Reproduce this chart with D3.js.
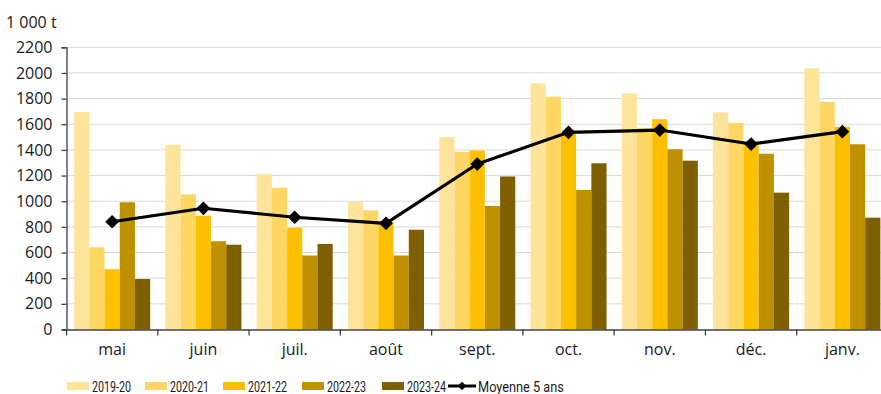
<!DOCTYPE html>
<html>
<head>
<meta charset="utf-8">
<script src="https://cdn.jsdelivr.net/npm/d3@7"></script>
<style>
  html, body { margin: 0; padding: 0; background: #fff; }
  svg { display: block; }
  .axis text { font-family: "Open Sans", sans-serif; fill: #1a1a1a; }
  .legend text { font-family: "Roboto", "Open Sans", sans-serif; fill: #1a1a1a; }
</style>
</head>
<body>
<svg id="chart" width="881" height="394"></svg>
<script>
// Monthly volumes (1 000 t), campaigns 2019-20 to 2023-24, plus the 5-year average
const months = ["mai", "juin", "juil.", "août", "sept.", "oct.", "nov.", "déc.", "janv."];
const seriesNames = ["2019-20", "2020-21", "2021-22", "2022-23", "2023-24"];
const s2019_20 = [1695, 1440, 1212, 995, 1500, 1920, 1840, 1693, 2036];
const s2020_21 = [641, 1054, 1105, 929, 1385, 1815, 1570, 1610, 1774];
const s2021_22 = [470, 887, 794, 840, 1395, 1530, 1640, 1465, 1581];
const s2022_23 = [992, 688, 577, 577, 963, 1088, 1405, 1370, 1444];
const s2023_24 = [394, 661, 667, 778, 1193, 1296, 1316, 1067, 872];
const average5 = [840, 945, 875, 828, 1290, 1537, 1555, 1446, 1542];
const yTicks = [0, 200, 400, 600, 800, 1000, 1200, 1400, 1600, 1800, 2000, 2200];
const seriesColors = ["#fee49b", "#fdd663", "#fdc000", "#bf9000", "#7f6000"];
const avgLabel = "Moyenne 5 ans";
const unitLabel = "1 000 t";

const series = [s2019_20, s2020_21, s2021_22, s2022_23, s2023_24];

const svg = d3.select("#chart");
const plotLeft = 66.5, plotRight = 888, plotTop = 47.3, plotBottom = 329.5;

const x0 = d3.scaleBand().domain(months).range([plotLeft, plotRight]).padding(0);
const x1 = d3.scaleBand().domain(seriesNames).range([0, x0.bandwidth()])
  .paddingInner(0).paddingOuter(0.5);
const y = d3.scaleLinear().domain([0, 2200]).range([plotBottom, plotTop]);
const color = d3.scaleOrdinal().domain(seriesNames).range(seriesColors);

// Horizontal gridlines
svg.append("g")
  .selectAll("line")
  .data(yTicks.filter(d => d > 0))
  .join("line")
  .attr("x1", plotLeft).attr("x2", 881)
  .attr("y1", d => y(d)).attr("y2", d => y(d))
  .attr("stroke", "#d9d9d9").attr("stroke-width", 1);

// Grouped bars
const groups = svg.append("g")
  .selectAll("g")
  .data(months)
  .join("g")
  .attr("transform", d => `translate(${x0(d)},0)`);

groups.selectAll("rect")
  .data((m, i) => seriesNames.map((s, k) => ({ s, v: series[k][i] })))
  .join("rect")
  .attr("x", d => x1(d.s))
  .attr("width", x1.bandwidth())
  .attr("y", d => y(d.v))
  .attr("height", d => y(0) - y(d.v))
  .attr("fill", d => color(d.s));

// Y axis
const yAxis = svg.append("g")
  .attr("class", "axis")
  .attr("transform", `translate(${plotLeft},0)`)
  .call(d3.axisLeft(y).tickValues(yTicks).tickSize(5).tickPadding(9).tickFormat(d3.format("d")));
yAxis.select(".domain").attr("stroke", "#404040").attr("stroke-width", 1.3);
yAxis.selectAll(".tick line").attr("stroke", "#404040").attr("stroke-width", 1.3);
yAxis.selectAll("text").attr("font-size", 16);

// X axis: ticks on group boundaries
const xAxis = svg.append("g")
  .attr("class", "axis")
  .attr("transform", `translate(0,${plotBottom})`)
  .call(d3.axisBottom(x0).tickSize(0).tickPadding(14));
xAxis.select(".domain").attr("stroke", "#404040").attr("stroke-width", 1.3);
xAxis.selectAll("text").attr("font-size", 16);
xAxis.selectAll(".boundary")
  .data(months.map(m => x0(m)).concat([x0(months[months.length - 1]) + x0.bandwidth()]))
  .join("line")
  .attr("class", "boundary")
  .attr("x1", d => d).attr("x2", d => d)
  .attr("y1", 0).attr("y2", 6)
  .attr("stroke", "#404040").attr("stroke-width", 1.3);

// Unit label
svg.append("text")
  .attr("x", 6).attr("y", 28)
  .attr("font-family", "Open Sans, sans-serif")
  .attr("font-size", 16)
  .attr("fill", "#1a1a1a")
  .text(unitLabel);

// 5-year average line with diamond markers
const cx = m => x0(m) + x0.bandwidth() / 2;
const line = d3.line().x((d, i) => cx(months[i])).y(d => y(d));
svg.append("path")
  .datum(average5)
  .attr("d", line)
  .attr("fill", "none")
  .attr("stroke", "#000")
  .attr("stroke-width", 3.2)
  .attr("stroke-linejoin", "round");
const diamond = d3.symbol().type(d3.symbolDiamond2).size(120);
svg.append("g")
  .selectAll("path")
  .data(average5)
  .join("path")
  .attr("transform", (d, i) => `translate(${cx(months[i])},${y(d)})`)
  .attr("d", diamond)
  .attr("fill", "#000");

// Legend (condensed labels: each text is squeezed horizontally to its slot width)
const legend = svg.append("g").attr("class", "legend");
const legendX = [67, 145, 223, 302, 382];
const legendY = 386;
function condensedLabel(x, text, width) {
  const g = legend.append("g");
  const t = g.append("text")
    .attr("x", 0).attr("y", 0)
    .attr("dy", "0.36em")
    .attr("font-size", 15.5)
    .text(text);
  const w = t.node().getComputedTextLength();
  g.attr("transform", `translate(${x},${legendY}) scale(${width / w},1)`);
}
seriesNames.forEach((s, k) => {
  legend.append("rect")
    .attr("x", legendX[k]).attr("y", legendY - 4)
    .attr("width", 22).attr("height", 8)
    .attr("fill", color(s));
  condensedLabel(legendX[k] + 25, s, 39);
});
legend.append("line")
  .attr("x1", 448).attr("x2", 476)
  .attr("y1", legendY).attr("y2", legendY)
  .attr("stroke", "#000").attr("stroke-width", 3);
legend.append("path")
  .attr("transform", `translate(462,${legendY})`)
  .attr("d", d3.symbol().type(d3.symbolDiamond2).size(45))
  .attr("fill", "#000");
condensedLabel(478, avgLabel, 86);
</script>
</body>
</html>
